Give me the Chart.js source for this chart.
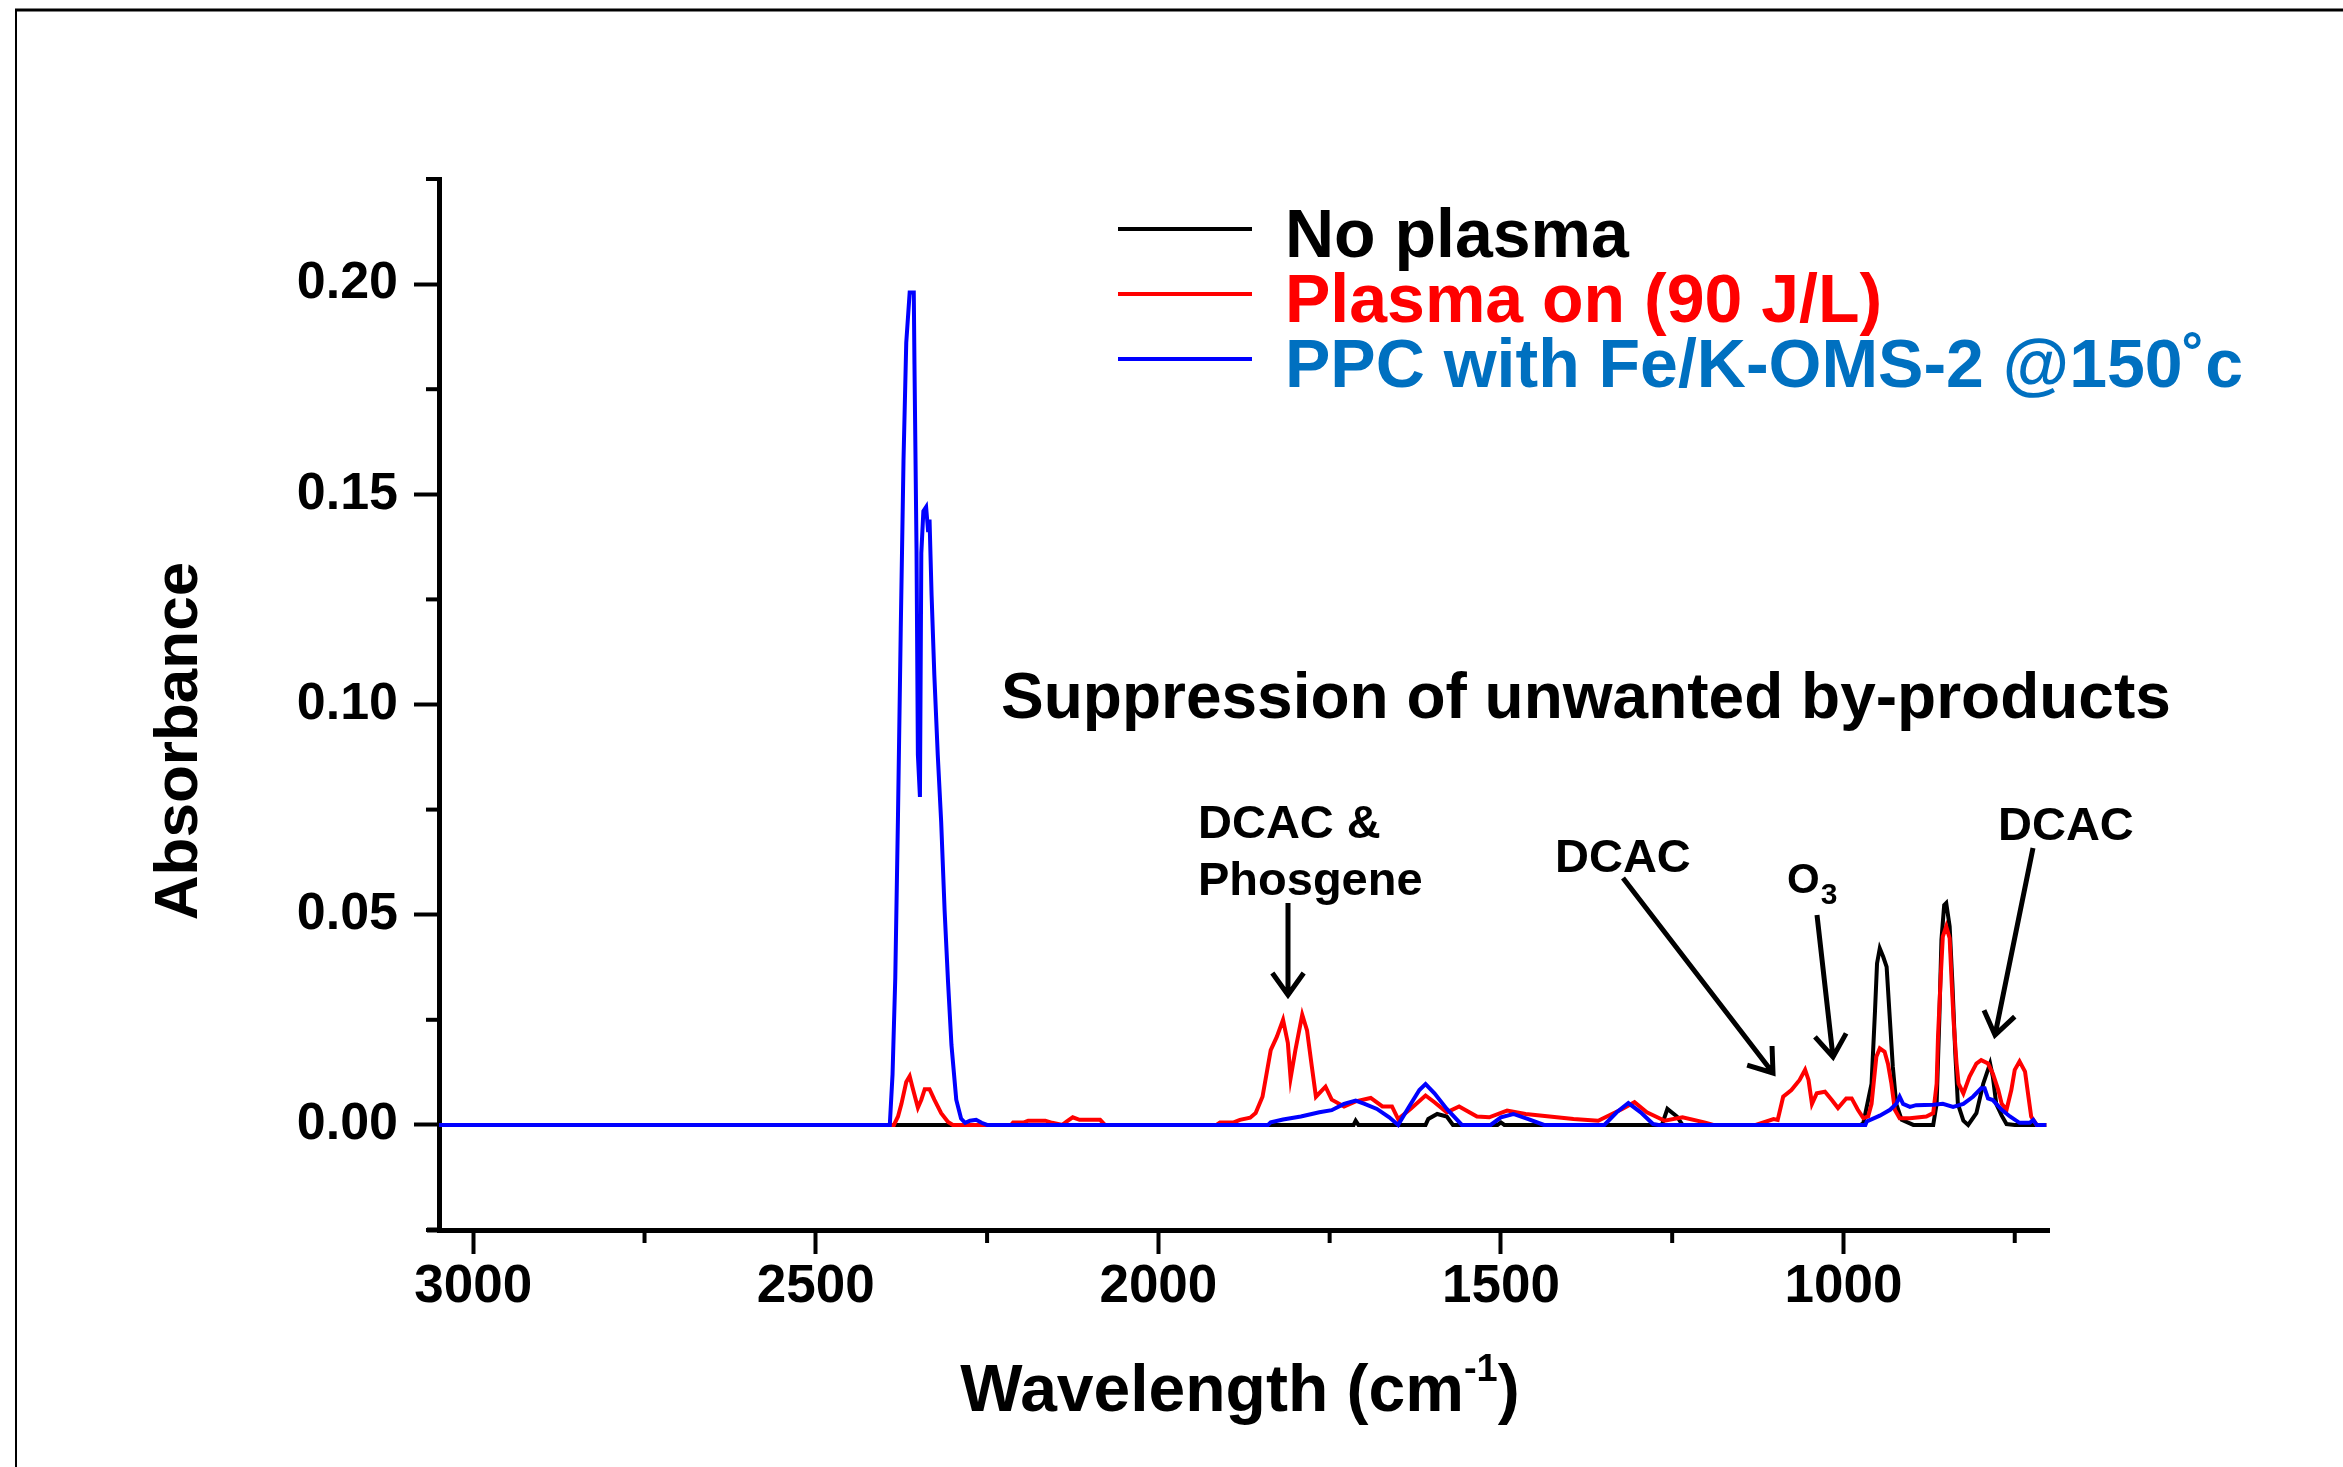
<!DOCTYPE html>
<html>
<head>
<meta charset="utf-8">
<script src="https://cdn.jsdelivr.net/npm/chart.js@4.4.1/dist/chart.umd.min.js"></script>
<style>
  html, body { margin: 0; padding: 0; background: #fff; }
  canvas { display: block; }
</style>
</head>
<body>
<canvas id="spectrum" width="2343" height="1467"></canvas>
<script>
// wavenumber (cm-1) / absorbance
const noPlasmaWave = [3050, 1715, 1712, 1708, 1610, 1606, 1593, 1579, 1570, 1505, 1500, 1495, 1265, 1257, 1243, 1235,
  975, 971, 959, 954, 951, 947, 942, 937, 933, 928, 923, 915, 898, 869, 864, 860, 857, 853, 850, 845, 841, 837, 833,
  825, 818, 806, 796, 786, 782, 777, 769, 762, 750, 704];
const noPlasmaAbs = [0, 0, 0.001, 0, 0, 0.0014, 0.0026, 0.002, 0, 0, 0.0006, 0, 0, 0.0038, 0.002, 0,
  0, 0.0004, 0.0098, 0.027, 0.0384, 0.042, 0.04, 0.0376, 0.027, 0.0139, 0.005, 0.0012, 0, 0, 0.005, 0.0257, 0.044, 0.0523, 0.0528, 0.0472, 0.0337, 0.0178, 0.005,
  0.001, 0, 0.0028, 0.0098, 0.0146, 0.0115, 0.005, 0.0022, 0.0002, 0, 0];

const plasmaWave = [3050, 2386, 2380, 2375, 2368, 2363, 2359, 2351, 2346, 2341, 2334, 2327, 2317, 2307, 2300,
  2215, 2212, 2196, 2190, 2165, 2155, 2140, 2134, 2125, 2115, 2085, 2078, 1915, 1910, 1890, 1881, 1866,
  1858, 1848, 1836, 1827, 1818, 1811, 1807, 1800, 1790, 1783, 1776, 1770, 1756, 1747, 1729, 1712, 1690, 1673,
  1659, 1650, 1632, 1610, 1597, 1579, 1561, 1535, 1517, 1491, 1464, 1429, 1394, 1358, 1323, 1305, 1287, 1261,
  1235, 1203, 1190, 1128, 1102, 1096, 1088, 1076, 1064, 1056, 1051, 1046, 1039, 1027, 1017, 1008, 996, 988,
  979, 971, 964, 959, 952, 947, 940, 935, 930, 925, 918, 903, 879, 869, 864, 862, 858, 855, 850, 845, 842,
  839, 835, 832, 825, 816, 806, 799, 789, 782, 774, 769, 762, 755, 750, 743, 735, 730, 726, 718, 704];
const plasmaAbs = [0, 0, 0.002, 0.005, 0.0102, 0.0116, 0.009, 0.0041, 0.006, 0.0085, 0.0085, 0.006, 0.0028, 0.0007, 0,
  0, 0.0006, 0.0006, 0.001, 0.001, 0.0005, 0, 0.0008, 0.0018, 0.0012, 0.0012, 0, 0, 0.0006, 0.0006, 0.0012, 0.0017,
  0.0028, 0.0067, 0.0178, 0.021, 0.025, 0.0195, 0.0111, 0.0178, 0.0262, 0.0225, 0.0139, 0.0067, 0.0091, 0.006, 0.0044, 0.0056, 0.0064, 0.0044,
  0.0044, 0.0014, 0.0038, 0.007, 0.0054, 0.003, 0.0044, 0.002, 0.0018, 0.0034, 0.0026, 0.002, 0.0014, 0.001, 0.0038, 0.0054, 0.003, 0.001,
  0.0018, 0.0006, 0, 0, 0.0014, 0.0012, 0.0067, 0.0083, 0.0107, 0.0131, 0.0107, 0.005, 0.0075, 0.0079, 0.0059, 0.004, 0.0063, 0.0063,
  0.0036, 0.0016, 0.002, 0.005, 0.0162, 0.0182, 0.0174, 0.0145, 0.0098, 0.0036, 0.0016, 0.0016, 0.002, 0.0028, 0.0098, 0.021, 0.0353, 0.0448, 0.0472, 0.0444, 0.0337,
  0.0241, 0.0147, 0.0098, 0.0075, 0.0115, 0.0146, 0.0154, 0.0146, 0.0122, 0.0083, 0.005, 0.0036, 0.0083, 0.0131, 0.0151, 0.0127, 0.0067, 0.002, 0, 0];

const ppcWave = [3050, 2392, 2388, 2384, 2380, 2376, 2372, 2368, 2363, 2357, 2356, 2353, 2351, 2348, 2346, 2343,
  2339, 2336, 2334, 2331, 2327, 2322, 2317, 2312, 2307, 2302, 2295, 2288, 2282, 2275, 2266, 2258, 2250,
  1840, 1836, 1818, 1792, 1765, 1747, 1729, 1712, 1699, 1681, 1663, 1650, 1633, 1619, 1610, 1597, 1579, 1557,
  1515, 1500, 1482, 1460, 1437, 1349, 1331, 1314, 1296, 1278, 1270, 968, 966, 947, 932, 923, 918, 913, 903,
  894, 869, 855, 840, 825, 811, 799, 794, 789, 782, 769, 757, 743, 728, 723, 718, 704];
const ppcAbs = [0, 0, 0.012, 0.035, 0.074, 0.118, 0.158, 0.186, 0.198, 0.198, 0.181, 0.137, 0.088, 0.078, 0.136, 0.146,
  0.147, 0.141, 0.144, 0.126, 0.107, 0.088, 0.072, 0.051, 0.034, 0.019, 0.006, 0.0015, 0.0005, 0.001, 0.0012, 0.0005, 0,
  0, 0.0006, 0.0013, 0.002, 0.003, 0.0035, 0.005, 0.0058, 0.005, 0.0038, 0.0018, 0, 0.0046, 0.0083, 0.0097, 0.0075, 0.0038, 0,
  0, 0.0018, 0.0026, 0.0014, 0, 0, 0.003, 0.0052, 0.003, 0.0002, 0, 0, 0.0008, 0.0022, 0.0036, 0.005, 0.0067, 0.005, 0.0043,
  0.0047, 0.0048, 0.005, 0.0043, 0.005, 0.0067, 0.0087, 0.0087, 0.0063, 0.0059, 0.0036, 0.002, 0.0005, 0.0005, 0.0012, 0, 0];

const xTicks = [3000, 2750, 2500, 2250, 2000, 1750, 1500, 1250, 1000, 750];
const yTicks = [-0.025, 0, 0.025, 0.05, 0.075, 0.1, 0.125, 0.15, 0.175, 0.2, 0.225];

const FONT = "'Liberation Sans', Arial, Helvetica, sans-serif";

function pts(w, a) { return w.map((v, i) => ({ x: v, y: a[i] })); }
function isMajorX(v) { return v % 500 === 0; }
function isMajorY(v) { return Math.round(v * 1000) % 50 === 0; }

function arrow(c, x1, y1, x2, y2) {
  const ang = Math.atan2(y2 - y1, x2 - x1);
  const len = 27, spread = 0.62;
  c.beginPath();
  c.moveTo(x1, y1); c.lineTo(x2, y2);
  c.moveTo(x2 - len * Math.cos(ang - spread), y2 - len * Math.sin(ang - spread));
  c.lineTo(x2, y2);
  c.lineTo(x2 - len * Math.cos(ang + spread), y2 - len * Math.sin(ang + spread));
  c.stroke();
}

const decor = {
  id: 'decor',
  beforeDraw(chart) {
    const c = chart.ctx;
    c.save();
    c.fillStyle = '#fff';
    c.fillRect(0, 0, chart.width, chart.height);
    // slide border
    c.strokeStyle = '#000';
    c.lineWidth = 3;
    c.beginPath(); c.moveTo(15, 10); c.lineTo(chart.width, 10); c.stroke();
    c.lineWidth = 2;
    c.beginPath(); c.moveTo(16, 10); c.lineTo(16, chart.height); c.stroke();
    c.restore();
  },
  afterDraw(chart) {
    const c = chart.ctx;
    const xs = chart.scales.x, ys = chart.scales.y;
    const area = chart.chartArea;
    c.save();
    c.strokeStyle = '#000';
    c.fillStyle = '#000';

    // minor ticks
    c.lineWidth = 4;
    xTicks.filter(v => !isMajorX(v)).forEach(v => {
      const px = xs.getPixelForValue(v);
      c.beginPath(); c.moveTo(px, area.bottom); c.lineTo(px, area.bottom + 13); c.stroke();
    });
    yTicks.filter(v => !isMajorY(v)).forEach(v => {
      const py = ys.getPixelForValue(v);
      c.beginPath(); c.moveTo(area.left - 13, py); c.lineTo(area.left, py); c.stroke();
    });
    // x axis line overhang to the left
    c.lineWidth = 5;
    c.beginPath(); c.moveTo(area.left - 12, area.bottom); c.lineTo(area.left, area.bottom); c.stroke();

    // axis titles
    c.font = 'bold 62px ' + FONT;
    c.textAlign = 'center';
    c.textBaseline = 'middle';
    c.save();
    c.translate(180, 741);
    c.rotate(-Math.PI / 2);
    c.fillText('Absorbance', 0, 0);
    c.restore();

    c.textAlign = 'left';
    c.textBaseline = 'alphabetic';
    const big = 'bold 66px ' + FONT, sup = 'bold 38px ' + FONT;
    c.font = big; const w1 = c.measureText('Wavelength (cm').width; const w3 = c.measureText(')').width;
    c.font = sup; const w2 = c.measureText('-1').width;
    let tx = 1240 - (w1 + w2 + w3) / 2;
    const tb = 1411;
    c.font = big; c.fillText('Wavelength (cm', tx, tb); tx += w1;
    c.font = sup; c.fillText('-1', tx, tb - 30); tx += w2;
    c.font = big; c.fillText(')', tx, tb);

    // legend
    const legendY = [229, 294, 359];
    chart.data.datasets.forEach((ds, i) => {
      c.strokeStyle = ds.borderColor;
      c.lineWidth = 4;
      c.beginPath(); c.moveTo(1118, legendY[i]); c.lineTo(1252, legendY[i]); c.stroke();
      c.fillStyle = ds.textColor;
      c.font = 'bold 68px ' + FONT;
      c.fillText(ds.label, 1285, legendY[i] + 28);
    });

    // annotations
    c.fillStyle = '#000';
    c.strokeStyle = '#000';
    c.font = 'bold 64px ' + FONT;
    c.fillText('Suppression of unwanted by-products', 1001, 718);
    c.font = 'bold 47px ' + FONT;
    c.fillText('DCAC &', 1198, 838);
    c.fillText('Phosgene', 1198, 895);
    c.fillText('DCAC', 1555, 872);
    c.fillText('DCAC', 1998, 840);
    c.font = 'bold 42px ' + FONT;
    c.fillText('O', 1787, 893);
    const ow = c.measureText('O').width;
    c.font = 'bold 30px ' + FONT;
    c.fillText('3', 1787 + ow + 1, 904);

    c.lineWidth = 5;
    c.lineCap = 'butt';
    arrow(c, 1288, 903, 1288, 995);
    arrow(c, 1623, 878, 1773, 1073);
    arrow(c, 1817, 915, 1833, 1057);
    arrow(c, 2033, 848, 1995, 1035);
    c.restore();
  }
};

new Chart(document.getElementById('spectrum'), {
  type: 'line',
  data: {
    datasets: [
      { label: 'No plasma', data: pts(noPlasmaWave, noPlasmaAbs), borderColor: '#000000', textColor: '#000000', order: 2 },
      { label: 'Plasma on (90 J/L)', data: pts(plasmaWave, plasmaAbs), borderColor: '#ff0000', textColor: '#ff0000', order: 1 },
      { label: 'PPC with Fe/K-OMS-2 @150\u02DAc', data: pts(ppcWave, ppcAbs), borderColor: '#0000ff', textColor: '#0070c0', order: 0 }
    ]
  },
  options: {
    responsive: false,
    devicePixelRatio: 1,
    animation: false,
    layout: { padding: { left: 0, top: 179, right: 294, bottom: 0 } },
    elements: {
      point: { radius: 0 },
      line: { borderWidth: 4, tension: 0, fill: false }
    },
    plugins: { legend: { display: false }, tooltip: { enabled: false } },
    scales: {
      x: {
        type: 'linear',
        reverse: true,
        min: 700,
        max: 3050,
        afterBuildTicks: s => { s.ticks = xTicks.map(v => ({ value: v })); },
        afterFit: s => { s.height = 237; },
        ticks: {
          autoSkip: false,
          maxRotation: 0,
          padding: 2,
          color: '#000',
          font: { family: FONT, size: 53, weight: 'bold' },
          callback: v => isMajorX(v) ? String(v) : ''
        },
        grid: {
          drawOnChartArea: false,
          drawTicks: true,
          tickLength: 24,
          tickWidth: 4,
          tickColor: ctx => (ctx.tick && isMajorX(ctx.tick.value)) ? '#000' : 'rgba(0,0,0,0)'
        },
        border: { display: true, color: '#000', width: 5 }
      },
      y: {
        min: -0.025,
        max: 0.225,
        afterBuildTicks: s => { s.ticks = yTicks.map(v => ({ value: v })); },
        afterFit: s => { s.width = 439; },
        ticks: {
          padding: 16,
          color: '#000',
          font: { family: FONT, size: 52, weight: 'bold' },
          callback: v => isMajorY(v) ? v.toFixed(2) : ''
        },
        grid: {
          drawOnChartArea: false,
          drawTicks: true,
          tickLength: 25,
          tickWidth: 4,
          tickColor: ctx => (ctx.tick && isMajorY(ctx.tick.value)) ? '#000' : 'rgba(0,0,0,0)'
        },
        border: { display: true, color: '#000', width: 5 }
      }
    }
  },
  plugins: [decor]
});
</script>
</body>
</html>
